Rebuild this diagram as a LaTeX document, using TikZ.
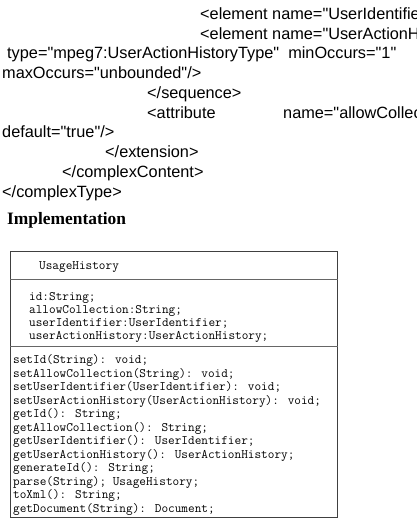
\documentclass[tikz,border=0pt]{standalone}
\usepackage{fontspec}
\setmainfont{Liberation Serif}
\newfontfamily\arialfont{Liberation Sans}
\begin{document}
\begin{tikzpicture}[x=1pt,y=-1pt,
  xml/.style={anchor=base west, inner sep=0pt, font=\arialfont\fontsize{16.3}{18}\selectfont},
  uml/.style={anchor=base west, inner sep=0pt, font=\ttfamily\fontsize{12.9}{13}\selectfont},
  frame/.style={draw=black!75, line width=1pt},
  divider/.style={draw=black!60, line width=0.8pt}]
\useasboundingbox (0,0) rectangle (416,525);
\clip (0,0) rectangle (416,525);
% XML fragment
\node[xml] (x1) at (200,19) {<element name="UserIdentifie};
\node[xml] (x2) at (200,39) {<element name="UserActionH};
\node[xml] (x3) at (7,58.5) {type="mpeg7:UserActionHistoryType"\ \ minOccurs="1"};
\node[xml] (x4) at (2,78) {maxOccurs="unbounded"/>};
\node[xml] (x5) at (147,98) {</sequence>};
\node[xml] (x6) at (147,118) {<attribute};
\node[xml] (x6b) at (283,118) {name="allowCollect};
\node[xml] (x7) at (2,137.5) {default="true"/>};
\node[xml] (x8) at (105,157) {</extension>};
\node[xml] (x9) at (62,177) {</complexContent>};
\node[xml] (x10) at (2,197) {</complexType>};
% heading
\node[anchor=base west, inner sep=0pt, font=\bfseries\fontsize{17.4}{20}\selectfont] (head) at (7,224) {Implementation};
% class box
\node[frame, anchor=north west, minimum width=327pt, minimum height=266pt, inner sep=0pt] (box) at (10,251) {};
\coordinate (d1) at (10,279.5);
\coordinate (d2) at (10,346);
\draw[divider] (d1) -- (d1 -| box.east);
\draw[divider] (d2) -- (d2 -| box.east);
\node[uml] (cname) at (39,269.5) {UsageHistory};
\node[uml] (a1) at (29,300.5) {id:String;};
\node[uml] (a2) at (29,313.5) {allowCollection:String;};
\node[uml] (a3) at (29,326.5) {userIdentifier:UserIdentifier;};
\node[uml] (a4) at (29,339.5) {userActionHistory:UserActionHistory;};
\node[uml] (m1) at (13,363.5) {setId(String): void;};
\node[uml] (m2) at (13,377) {setAllowCollection(String): void;};
\node[uml] (m3) at (13,390.5) {setUserIdentifier(UserIdentifier): void;};
\node[uml] (m4) at (13,404) {setUserActionHistory(UserActionHistory): void;};
\node[uml] (m5) at (13,417.5) {getId(): String;};
\node[uml] (m6) at (13,431) {getAllowCollection(): String;};
\node[uml] (m7) at (13,444.5) {getUserIdentifier(): UserIdentifier;};
\node[uml] (m8) at (13,458) {getUserActionHistory(): UserActionHistory;};
\node[uml] (m9) at (13,471.5) {generateId(): String;};
\node[uml] (m10) at (13,485) {parse(String); UsageHistory;};
\node[uml] (m11) at (13,498.5) {toXml(): String;};
\node[uml] (m12) at (13,512) {getDocument(String): Document;};
\end{tikzpicture}
\end{document}
